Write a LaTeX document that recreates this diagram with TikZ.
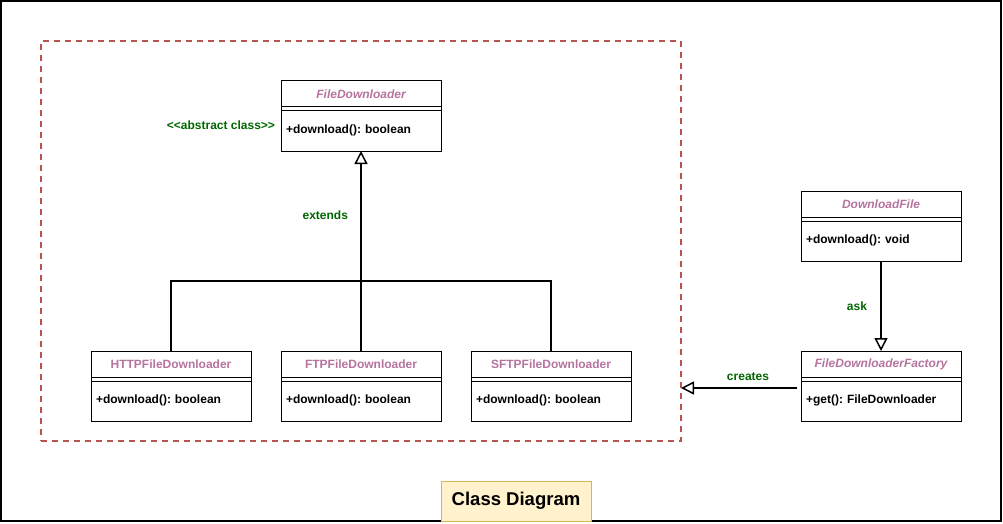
\documentclass[tikz,border=0pt]{standalone}
\usepackage{fontspec}
\setmainfont{Liberation Sans}
\usepackage{tikz}
\usetikzlibrary{positioning, arrows.meta}
\definecolor{classname}{HTML}{B5739D}
\definecolor{notegreen}{HTML}{006600}
\definecolor{pkgred}{HTML}{B85450}
\definecolor{titlefill}{HTML}{FFF2CC}
\definecolor{titledraw}{HTML}{D6B656}
\frenchspacing

% one class box: [title font], name, top-left corner, title, method
\newcommand{\umlclass}[5][]{%
  \node[classhead, anchor=north west, font=\fontsize{12}{14}\selectfont\bfseries#1] (#2) at (#3) {#4};
  \node[classbody, anchor=north west] (#2-body) at ([yshift=-4pt]#2.south west) {#5};
  \draw (#2.north west) rectangle (#2-body.south east);
}

\begin{document}
\begin{tikzpicture}[x=1pt, y=-1pt, line width=1pt, outer sep=0pt,
  classhead/.style={draw, minimum width=160pt, minimum height=26pt, inner sep=0pt, text=classname},
  classbody/.style={draw, minimum width=160pt, minimum height=40pt, text width=150pt,
    inner xsep=5pt, inner ysep=3pt, text height=19.5pt, text depth=14.5pt, align=left,
    font=\fontsize{12}{14}\selectfont\bfseries},
  edge/.style={draw, line width=2pt},
  openarrow/.style={-{Triangle[open, width=13pt, length=13pt, line width=1.5pt]}},
  note/.style={font=\fontsize{12}{14}\selectfont\bfseries, text=notegreen, inner sep=0pt}]

\useasboundingbox (0,0) rectangle (1003,524);
\draw[line width=1.5pt] (1,1) rectangle (1001,521);

\node[draw=pkgred, dashed, line width=2pt, dash pattern=on 6pt off 5pt, minimum width=640pt, minimum height=400pt] (pkg) at (361,241) {};

\umlclass[\itshape]{fd}{281,81}{FileDownloader}{+download(): boolean}
\umlclass{http}{91,351}{HTTPFileDownloader}{+download(): boolean}
\umlclass{ftp}{281,351}{FTPFileDownloader}{+download(): boolean}
\umlclass{sftp}{471,351}{SFTPFileDownloader}{+download(): boolean}
\umlclass[\itshape]{df}{801,191}{DownloadFile}{+download(): void}
\umlclass[\itshape]{dff}{801,351}{FileDownloaderFactory}{+get(): FileDownloader}

\node[note, anchor=east] (abs) at (275,125) {<\kern0pt<abstract class>\kern0pt>};

\coordinate (join) at (361,281);
\draw[edge] (http.north) |- (join) -| (sftp.north);
\draw[edge, openarrow] (ftp.north) -- node[note, pos=0.68, left=13pt] {extends} (fd-body.south);

\draw[edge, openarrow] (df-body.south) -- node[note, midway, left=14pt] {ask} (dff.north);
\draw[edge, openarrow] ([xshift=-4pt, yshift=13pt]dff-body.west) -- node[note, midway, above=7pt, xshift=9pt] {creates} ([yshift=13pt]pkg.east |- dff-body.west);

\node[draw=titledraw, fill=titlefill, minimum width=150pt, minimum height=40pt,
  font=\fontsize{18.5}{20}\selectfont\bfseries] (title) at (516,501) {Class Diagram};

\end{tikzpicture}
\end{document}
